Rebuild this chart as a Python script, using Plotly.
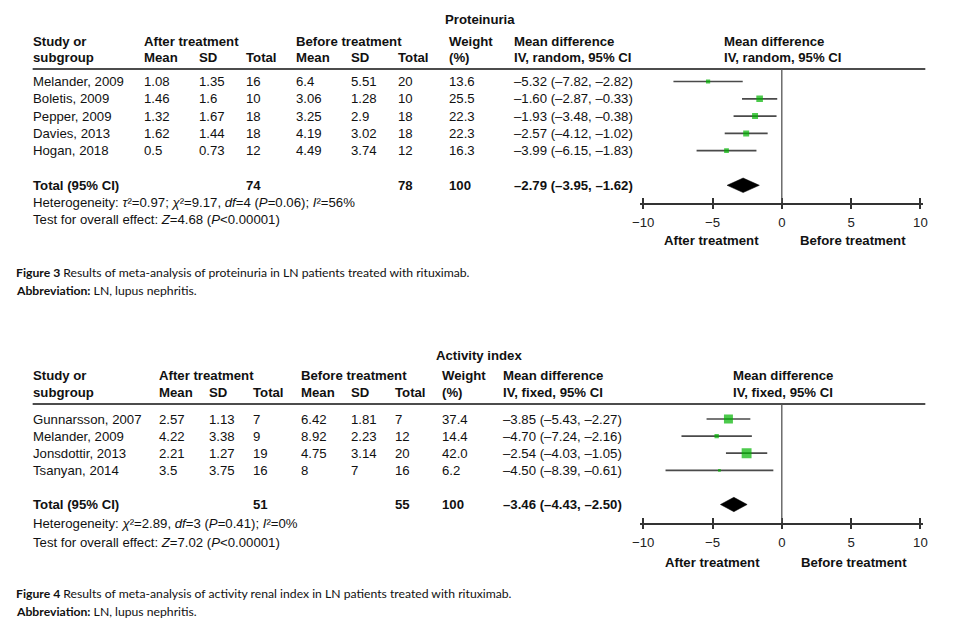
import plotly.graph_objects as go

W, H = 953, 628

# ---------------- Panel 1: Proteinuria ----------------
p1_title = "Proteinuria"
p1_studies = ["Melander, 2009", "Boletis, 2009", "Pepper, 2009", "Davies, 2013", "Hogan, 2018"]
p1_after_mean = [1.08, 1.46, 1.32, 1.62, 0.5]
p1_after_sd = [1.35, 1.6, 1.67, 1.44, 0.73]
p1_after_n = [16, 10, 18, 18, 12]
p1_before_mean = [6.4, 3.06, 3.25, 4.19, 4.49]
p1_before_sd = [5.51, 1.28, 2.9, 3.02, 3.74]
p1_before_n = [20, 10, 18, 18, 12]
p1_weight = [13.6, 25.5, 22.3, 22.3, 16.3]
p1_md = [-5.32, -1.60, -1.93, -2.57, -3.99]
p1_lo = [-7.82, -2.87, -3.48, -4.12, -6.15]
p1_hi = [-2.82, -0.33, -0.38, -1.02, -1.83]
p1_total_after = 74
p1_total_before = 78
p1_total_weight = 100
p1_total_md = -2.79
p1_total_lo = -3.95
p1_total_hi = -1.62
p1_method = "IV, random, 95% CI"
p1_het = "Heterogeneity: <i>τ</i>²=0.97; <i>χ</i>²=9.17, <i>df</i>=4 (<i>P</i>=0.06); <i>I</i>²=56%"
p1_test = "Test for overall effect: <i>Z</i>=4.68 (<i>P</i>&lt;0.00001)"
p1_caption = "<b>Figure 3</b> Results of meta-analysis of proteinuria in LN patients treated with rituximab."

# ---------------- Panel 2: Activity index ----------------
p2_title = "Activity index"
p2_studies = ["Gunnarsson, 2007", "Melander, 2009", "Jonsdottir, 2013", "Tsanyan, 2014"]
p2_after_mean = [2.57, 4.22, 2.21, 3.5]
p2_after_sd = [1.13, 3.38, 1.27, 3.75]
p2_after_n = [7, 9, 19, 16]
p2_before_mean = [6.42, 8.92, 4.75, 8]
p2_before_sd = [1.81, 2.23, 3.14, 7]
p2_before_n = [7, 12, 20, 16]
p2_weight = [37.4, 14.4, 42.0, 6.2]
p2_md = [-3.85, -4.70, -2.54, -4.50]
p2_lo = [-5.43, -7.24, -4.03, -8.39]
p2_hi = [-2.27, -2.16, -1.05, -0.61]
p2_total_after = 51
p2_total_before = 55
p2_total_weight = 100
p2_total_md = -3.46
p2_total_lo = -4.43
p2_total_hi = -2.50
p2_method = "IV, fixed, 95% CI"
p2_het = "Heterogeneity: <i>χ</i>²=2.89, <i>df</i>=3 (<i>P</i>=0.41); <i>I</i>²=0%"
p2_test = "Test for overall effect: <i>Z</i>=7.02 (<i>P</i>&lt;0.00001)"
p2_caption = "<b>Figure 4</b> Results of meta-analysis of activity renal index in LN patients treated with rituximab."

abbrev = "<b>Abbreviation:</b> LN, lupus nephritis."
tick_vals = [-10, -5, 0, 5, 10]
side_labels = ["After treatment", "Before treatment"]

# ---------------- styling ----------------
TFONT = "Liberation Sans, Arial, sans-serif"
CFONT = "Lato, Open Sans, sans-serif"
FS = 13.2
CFS = 12.2
GREEN = "#00b400"
GREY = "#4a4a4a"


def px(x):
    return x / W


def py(y):
    return 1 - y / H


def fmt_md(m, lo, hi):
    return f"{m:.2f} ({lo:.2f}, {hi:.2f})".replace("-", "–")


fig = go.Figure()
annotations = []
shapes = []


def txt(x, y, s, bold=False, size=FS, yref="paper", font=TFONT, xanchor="left"):
    annotations.append(dict(
        x=px(x), y=(py(y) if yref == "paper" else y), xref="paper", yref=yref,
        text=(f"<b>{s}</b>" if bold else s), showarrow=False,
        xanchor=xanchor, yanchor="middle", align="left", borderpad=0, borderwidth=0,
        font=dict(family=font, size=size, color="#111")))


def panel(cfg):
    k = cfg["k"]
    xa = "x" if k == 1 else "x2"
    ya = "y" if k == 1 else "y2"
    n = len(cfg["studies"])
    rows = list(range(n))
    trow = n + 1
    cols = cfg["cols"]
    # header
    txt(cfg["title_x"], cfg["title_y"], cfg["title"], bold=True)
    h1, h2 = cfg["head_y"]
    txt(cols[0], h1, "Study or", True); txt(cols[0], h2, "subgroup", True)
    txt(cols[1], h1, "After treatment", True)
    txt(cols[4], h1, "Before treatment", True)
    for c, lab in zip(cols[1:7], ["Mean", "SD", "Total", "Mean", "SD", "Total"]):
        txt(c, h2, lab, True)
    txt(cols[7], h1, "Weight", True); txt(cols[7], h2, "(%)", True)
    txt(cols[8], h1, "Mean difference", True); txt(cols[8], h2, cfg["method"], True)
    txt(cols[9], h1, "Mean difference", True); txt(cols[9], h2, cfg["method"], True)
    # rule under header
    shapes.append(dict(type="line", xref="paper", yref="paper", x0=px(25), x1=px(930),
                       y0=py(cfg["rule_y"]), y1=py(cfg["rule_y"]),
                       line=dict(color="#111", width=1.5)))
    # rows
    for i in rows:
        vals = [cfg["studies"][i], cfg["am"][i], cfg["asd"][i], cfg["an"][i],
                cfg["bm"][i], cfg["bsd"][i], cfg["bn"][i], cfg["w"][i],
                fmt_md(cfg["md"][i], cfg["lo"][i], cfg["hi"][i])]
        for c, v in zip(cols[:9], vals):
            txt(c, i, str(v), yref=ya)
    txt(cols[0], trow, "Total (95% CI)", True, yref=ya)
    txt(cols[3], trow, str(cfg["tan"]), True, yref=ya)
    txt(cols[6], trow, str(cfg["tbn"]), True, yref=ya)
    txt(cols[7], trow, str(cfg["tw"]), True, yref=ya)
    txt(cols[8], trow, fmt_md(cfg["tmd"], cfg["tlo"], cfg["thi"]), True, yref=ya)
    txt(cols[0], cfg["het_y"], cfg["het"])
    txt(cols[0], cfg["test_y"], cfg["test"])
    # side labels
    for xv, lab in zip(cfg["side_x"], side_labels):
        txt(xv, cfg["side_y"], lab, True, xanchor="center")
    # captions
    txt(8, cfg["cap_y"][0], cfg["caption"], size=CFS, font=CFONT)
    txt(8, cfg["cap_y"][1], abbrev, size=CFS, font=CFONT)

    # CI lines
    cx, cy = [], []
    for i in rows:
        cx += [cfg["lo"][i], cfg["hi"][i], None]
        cy += [i, i, None]
    fig.add_trace(go.Scatter(x=cx, y=cy, mode="lines", xaxis=xa, yaxis=ya,
                             line=dict(color=GREY, width=1.7), hoverinfo="skip", showlegend=False))
    # boxes
    fig.add_trace(go.Scatter(x=cfg["md"], y=rows, mode="markers", xaxis=xa, yaxis=ya,
                             marker=dict(symbol="square", color=GREEN,
                                         size=[1.5 + 0.2 * w for w in cfg["w"]],
                                         line=dict(width=0)),
                             showlegend=False))
    # diamond
    hh = 0.42
    fig.add_trace(go.Scatter(x=[cfg["tlo"], cfg["tmd"], cfg["thi"], cfg["tmd"], cfg["tlo"]],
                             y=[trow, trow - hh, trow, trow + hh, trow],
                             mode="lines", fill="toself", fillcolor="#000",
                             line=dict(color="#000", width=0.5), xaxis=xa, yaxis=ya,
                             hoverinfo="skip", showlegend=False))
    # zero line
    shapes.append(dict(type="line", xref=xa, yref=f"{ya} domain", x0=0, x1=0, y0=0, y1=1,
                       line=dict(color="#555", width=1.3)))


p1 = dict(k=1, title=p1_title, studies=p1_studies, am=p1_after_mean, asd=p1_after_sd, an=p1_after_n,
          bm=p1_before_mean, bsd=p1_before_sd, bn=p1_before_n, w=p1_weight, md=p1_md, lo=p1_lo, hi=p1_hi,
          tan=p1_total_after, tbn=p1_total_before, tw=p1_total_weight, tmd=p1_total_md,
          tlo=p1_total_lo, thi=p1_total_hi, method=p1_method, het=p1_het, test=p1_test,
          caption=p1_caption,
          cols=[25, 138, 194, 241, 292, 348, 395, 447, 513, 726],
          title_x=443, title_y=20, head_y=(41, 57), rule_y=69, het_y=202, test_y=220,
          side_x=[713, 857], side_y=240, cap_y=(272, 290))
p2 = dict(k=2, title=p2_title, studies=p2_studies, am=p2_after_mean, asd=p2_after_sd, an=p2_after_n,
          bm=p2_before_mean, bsd=p2_before_sd, bn=p2_before_n, w=p2_weight, md=p2_md, lo=p2_lo, hi=p2_hi,
          tan=p2_total_after, tbn=p2_total_before, tw=p2_total_weight, tmd=p2_total_md,
          tlo=p2_total_lo, thi=p2_total_hi, method=p2_method, het=p2_het, test=p2_test,
          caption=p2_caption,
          cols=[25, 153, 204, 248, 297, 348, 392, 440, 502, 735],
          title_x=434, title_y=355, head_y=(375, 392), rule_y=404, het_y=523, test_y=542,
          side_x=[714, 858], side_y=562, cap_y=(593, 611))

panel(p1)
panel(p2)

# dummy traces for overlay (inside-tick) axes
fig.add_trace(go.Scatter(x=[0], y=[0], xaxis="x3", yaxis="y", mode="markers",
                         marker=dict(opacity=0), hoverinfo="skip", showlegend=False))
fig.add_trace(go.Scatter(x=[0], y=[0], xaxis="x4", yaxis="y2", mode="markers",
                         marker=dict(opacity=0), hoverinfo="skip", showlegend=False))

xr = [-10.2, 10.2]
xdom = [px(641.2), px(927.8)]
axis_common = dict(range=xr, domain=xdom, showgrid=False, zeroline=False, showline=True,
                   linecolor="#333", linewidth=1.5, ticks="outside", ticklen=5, tickwidth=1.5,
                   tickcolor="#333", tickvals=tick_vals, ticklabelstandoff=2,
                   tickfont=dict(family=TFONT, size=FS, color="#222"), fixedrange=True)
overlay_common = dict(range=xr, domain=xdom, showgrid=False, zeroline=False, showline=False,
                      ticks="inside", ticklen=5, tickwidth=1.5, tickcolor="#333",
                      tickvals=tick_vals, showticklabels=False, fixedrange=True)


# y mapping: row r -> pixel row0 + r*spacing
def yrange(top_px, bot_px, row0, sp):
    return [(bot_px - row0) / sp, (top_px - row0) / sp]


fig.update_layout(
    width=W, height=H, autosize=False, margin=dict(l=0, r=0, t=0, b=0),
    paper_bgcolor="white", plot_bgcolor="rgba(0,0,0,0)",
    xaxis=dict(anchor="y", **axis_common),
    xaxis2=dict(anchor="y2", **axis_common),
    xaxis3=dict(anchor="y", overlaying="x", **overlay_common),
    xaxis4=dict(anchor="y2", overlaying="x2", **overlay_common),
    yaxis=dict(domain=[py(202.5), py(69)], range=yrange(69, 202.5, 81.5, 17.3), visible=False,
               fixedrange=True),
    yaxis2=dict(domain=[py(522.5), py(404)], range=yrange(404, 522.5, 419, 17.1), visible=False,
                fixedrange=True),
    annotations=annotations, shapes=shapes, showlegend=False,
)

fig.write_html("out.html", config={"displayModeBar": False, "responsive": False},
               post_script="document.body.style.margin='0';document.body.style.overflow='hidden';")
